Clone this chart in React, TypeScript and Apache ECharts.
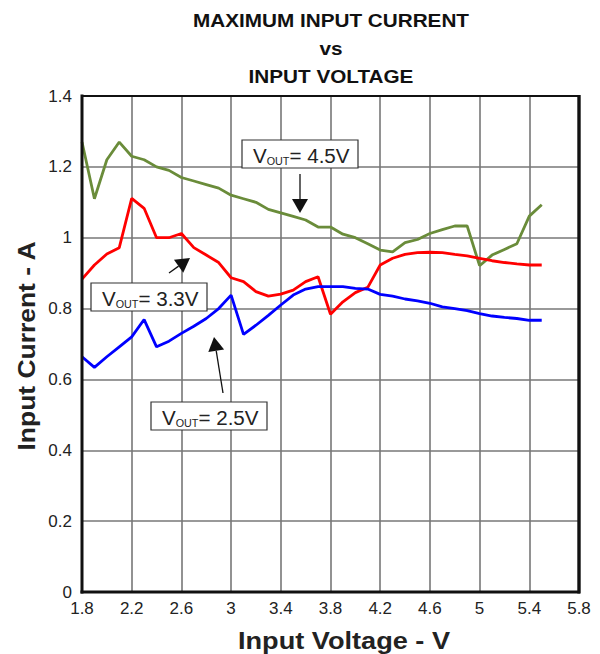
import React, { useEffect, useRef } from "react";
import * as echarts from "echarts";

const xValues = [1.8, 1.9, 2.0, 2.1, 2.2, 2.3, 2.4, 2.5, 2.6, 2.7, 2.8, 2.9, 3.0, 3.1, 3.2, 3.3, 3.4, 3.5, 3.6, 3.7, 3.8, 3.9, 4.0, 4.1, 4.2, 4.3, 4.4, 4.5, 4.6, 4.7, 4.8, 4.9, 5.0, 5.1, 5.2, 5.3, 5.4, 5.5];

const vout45 = [1.27, 1.11, 1.22, 1.27, 1.23, 1.22, 1.2, 1.19, 1.17, 1.16, 1.15, 1.14, 1.12, 1.11, 1.1, 1.08, 1.07, 1.06, 1.05, 1.03, 1.03, 1.01, 1.0, 0.983, 0.965, 0.96, 0.986, 0.995, 1.012, 1.023, 1.033, 1.033, 0.921, 0.951, 0.967, 0.983, 1.061, 1.093];

const vout33 = [0.883, 0.923, 0.954, 0.972, 1.111, 1.083, 1.0, 1.0, 1.012, 0.972, 0.951, 0.93, 0.887, 0.876, 0.848, 0.835, 0.841, 0.852, 0.876, 0.89, 0.784, 0.819, 0.845, 0.86, 0.923, 0.942, 0.953, 0.958, 0.959, 0.958, 0.953, 0.949, 0.942, 0.935, 0.93, 0.926, 0.923, 0.923];

const vout25 = [0.664, 0.634, 0.664, 0.692, 0.72, 0.769, 0.692, 0.708, 0.73, 0.75, 0.772, 0.8, 0.838, 0.727, 0.753, 0.781, 0.81, 0.838, 0.855, 0.862, 0.862, 0.862, 0.857, 0.855, 0.84, 0.835, 0.827, 0.822, 0.815, 0.805, 0.8, 0.794, 0.786, 0.779, 0.775, 0.772, 0.767, 0.767];

const titleLines = ["MAXIMUM INPUT CURRENT", "vs", "INPUT VOLTAGE"];
const labels = ["4.5V", "3.3V", "2.5V"];

const font = "Liberation Sans, Arial, sans-serif";

function arrow(tail: number[], tip: number[]) {
  const dx = tip[0] - tail[0];
  const dy = tip[1] - tail[1];
  const len = Math.sqrt(dx * dx + dy * dy);
  const ux = dx / len, uy = dy / len;
  const hl = 14, hw = 8;
  const bx = tip[0] - ux * hl, by = tip[1] - uy * hl;
  return [
    { type: "line", shape: { x1: tail[0], y1: tail[1], x2: bx, y2: by }, style: { stroke: "#111", lineWidth: 1.3 }, z: 20 },
    {
      type: "polygon",
      shape: { points: [[tip[0], tip[1]], [bx - uy * hw, by + ux * hw], [bx + uy * hw, by - ux * hw]] },
      style: { fill: "#111" },
      z: 20,
    },
  ];
}

function labelBox(x: number, y: number, val: string) {
  return [
    { type: "rect", shape: { x, y, width: 116, height: 28 }, style: { fill: "#fff", stroke: "#333", lineWidth: 1.2 }, z: 20 },
    {
      type: "text",
      x: x + 11,
      y: y + 14,
      scaleX: 0.98,
      style: {
        text: "{v|V}{s|OUT}{v|= " + val + "}",
        verticalAlign: "middle",
        rich: {
          v: { fontSize: 21, fontFamily: font, fill: "#222", lineHeight: 24, verticalAlign: "bottom" },
          s: { fontSize: 11, fontFamily: font, fill: "#222", lineHeight: 24, verticalAlign: "bottom", padding: [0, 0, 0, 0] },
        },
      },
      z: 21,
    },
  ];
}

export default function App() {
  const ref = useRef<HTMLDivElement>(null);
  useEffect(() => {
    document.body.style.margin = "0";
    if (!ref.current) return;
    const chart = echarts.init(ref.current, null, { renderer: "svg" });
    const mk = (vals: number[]) => xValues.map((x, i) => [x, vals[i]]);
    chart.setOption({
      animation: false,
      backgroundColor: "#fff",
      grid: { left: 82, right: 21, top: 96, bottom: 62, show: false },
      xAxis: {
        type: "value",
        min: 1.8,
        max: 5.8,
        interval: 0.4,
        axisLine: { show: false },
        axisTick: { show: false },
        axisLabel: { color: "#222", fontSize: 17, fontFamily: font, margin: 8, formatter: (v: number) => String(+v.toFixed(1)) },
        splitLine: { show: true, lineStyle: { color: "#777", width: 1.6 } },
      },
      yAxis: {
        type: "value",
        min: 0,
        max: 1.4,
        interval: 0.2,
        axisLine: { show: false },
        axisTick: { show: false },
        axisLabel: { color: "#222", fontSize: 17, fontFamily: font, margin: 10, formatter: (v: number) => String(+v.toFixed(1)) },
        splitLine: { show: true, lineStyle: { color: "#777", width: 1.6 } },
      },
      series: [
        { type: "line", data: mk(vout45), showSymbol: false, lineStyle: { color: "#6a8c3a", width: 2.8 }, z: 5 },
        { type: "line", data: mk(vout33), showSymbol: false, lineStyle: { color: "#ff0000", width: 2.8 }, z: 5 },
        { type: "line", data: mk(vout25), showSymbol: false, lineStyle: { color: "#0000ff", width: 2.8 }, z: 5 },
      ],
      graphic: [
        // frame
        { type: "line", shape: { x1: 82, y1: 96, x2: 580, y2: 96 }, style: { stroke: "#111", lineWidth: 2.2 }, z: 10 },
        { type: "line", shape: { x1: 82, y1: 94.5, x2: 82, y2: 593.5 }, style: { stroke: "#111", lineWidth: 3 }, z: 10 },
        { type: "line", shape: { x1: 80.5, y1: 592, x2: 580, y2: 592 }, style: { stroke: "#111", lineWidth: 3 }, z: 10 },
        { type: "line", shape: { x1: 579, y1: 95, x2: 579, y2: 593.5 }, style: { stroke: "#111", lineWidth: 3.4 }, z: 10 },
        ...titleLines.map((t, i) => ({
          type: "text",
          x: 331,
          y: 20 + i * 28,
          scaleX: 1.12,
          style: { text: t, fontSize: 18.5, fontWeight: "bold", fontFamily: font, fill: "#111", align: "center", verticalAlign: "middle" },
        })),
        {
          type: "text",
          x: 344,
          y: 641,
          scaleX: 1.18,
          style: { text: "Input Voltage - V", fontSize: 23, fontWeight: "bold", fontFamily: font, fill: "#222", align: "center", verticalAlign: "middle" },
        },
        {
          type: "text",
          x: 27,
          y: 346,
          rotation: Math.PI / 2,
          scaleX: 1.15,
          style: { text: "Input Current - A", fontSize: 23, fontWeight: "bold", fontFamily: font, fill: "#222", align: "center", verticalAlign: "middle" },
        },
        ...labelBox(242, 140, labels[0]),
        ...labelBox(91, 283, labels[1]),
        ...labelBox(151, 402, labels[2]),
        ...arrow([300, 174], [300, 213]),
        ...arrow([169, 273], [190, 258]),
        ...arrow([223, 393], [214, 337]),
      ],
    });
    return () => chart.dispose();
  }, []);
  return <div ref={ref} style={{ width: 600, height: 654 }} />;
}
